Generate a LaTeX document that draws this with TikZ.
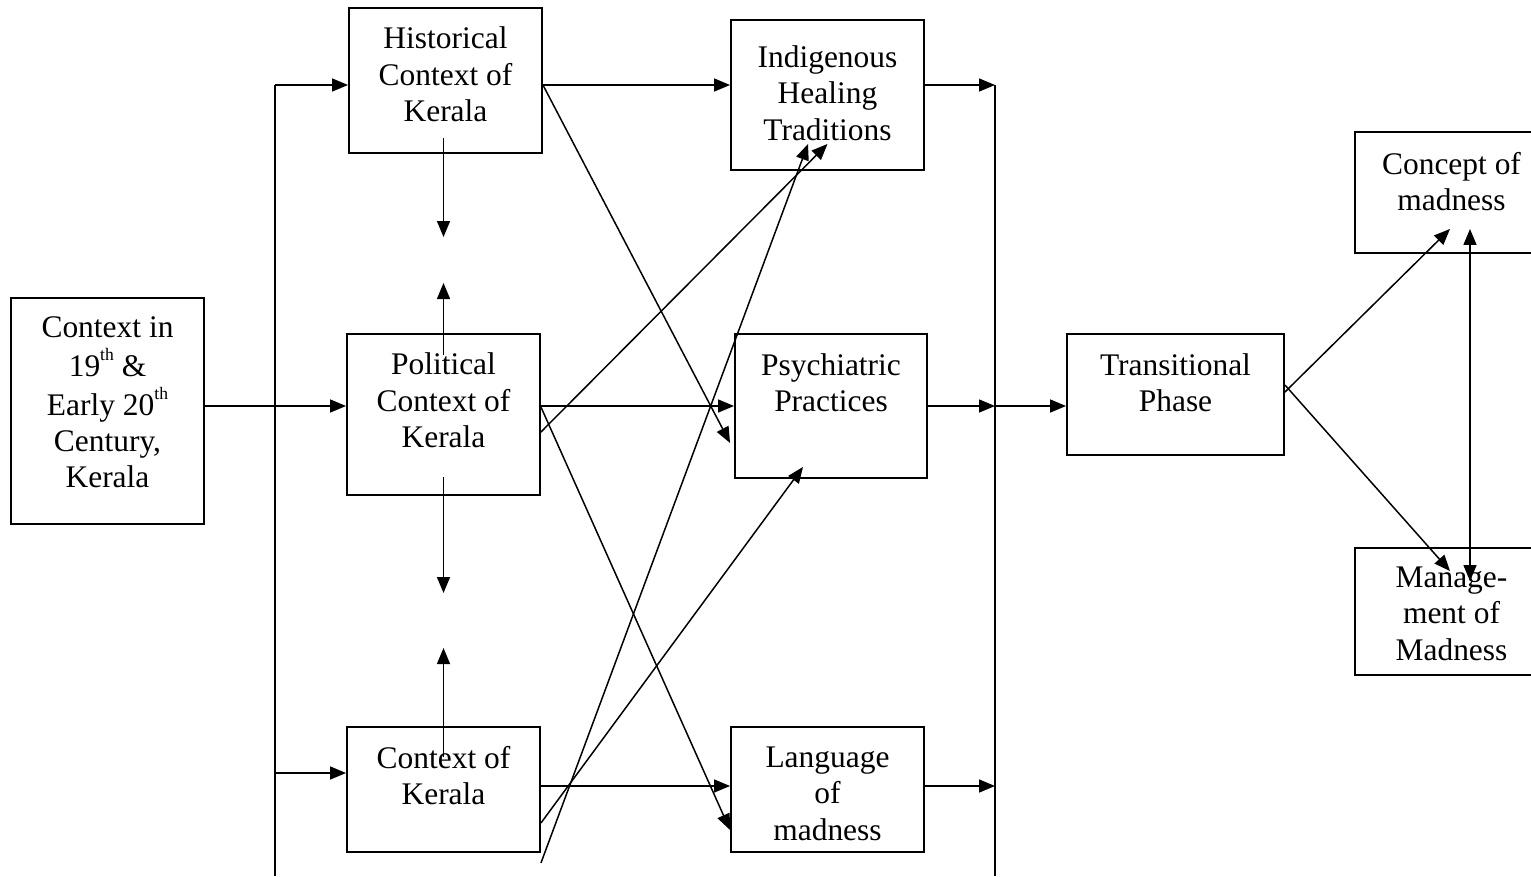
\documentclass[tikz,border=0pt]{standalone}
\usepackage{fontspec}
\setmainfont{Liberation Serif}
\usepackage{tikz}
\usetikzlibrary{positioning,arrows.meta}

% text block lifted inside its box
\newcommand{\lift}[2]{\raisebox{#1}[0pt][0pt]{\begin{tabular}{@{}c@{}}#2\end{tabular}}}
\newcommand{\ordsup}[1]{\raisebox{0.5em}{\fontsize{10}{10}\selectfont #1}}

\begin{document}
\begin{tikzpicture}[
  x=0.02cm, y=-0.02cm,
  box/.style={
    draw,
    rectangle,
    line width=1.1pt,
    inner sep=0pt,
    font=\fontsize{17.9}{20.7}\selectfont
  },
  arr/.style={-{Triangle[length=0.32cm,width=0.26cm]}, line width=0.85pt},
  bus/.style={line width=0.85pt}
]
\useasboundingbox (0,0) rectangle (1531,876);

\node[box, minimum width=3.86cm, minimum height=4.52cm] (ctx) at (107.5,411)
  {\lift{-0.04cm}{Context in\\19\ordsup{th} \&\\Early 20\ordsup{th}\\Century,\\Kerala}};

\node[box, minimum width=3.86cm, minimum height=2.9cm] (hist) at (445.5,80.5)
  {\lift{-0.1cm}{Historical\\Context of\\Kerala}};
\node[box, minimum width=3.86cm, minimum height=3.22cm] (pol) at (443.5,414.5)
  {\lift{0.06cm}{Political\\Context of\\Kerala}};
\node[box, minimum width=3.86cm, minimum height=2.5cm] (ker) at (443.5,789.5)
  {\lift{0.06cm}{Context of\\Kerala}};

\node[box, minimum width=3.86cm, minimum height=3cm] (ind) at (827.5,95)
  {\lift{-0.18cm}{Indigenous\\Healing\\Traditions}};
\node[box, minimum width=3.84cm, minimum height=2.88cm] (psy) at (831,406)
  {\lift{0.25cm}{Psychiatric\\Practices}};
\node[box, minimum width=3.86cm, minimum height=2.5cm] (lang) at (827.5,789.5)
  {\lift{-0.29cm}{Language\\of\\madness}};

\node[box, minimum width=4.34cm, minimum height=2.42cm] (trans) at (1175.5,394.5)
  {\lift{0.02cm}{Transitional\\Phase}};

\node[box, minimum width=3.86cm, minimum height=2.42cm] (conc) at (1451.5,192.5)
  {\lift{0cm}{Concept of\\madness}};
\node[box, minimum width=3.86cm, minimum height=2.54cm] (mgmt) at (1451.5,611.5)
  {\lift{-0.25cm}{Manage-\\ment of\\Madness}};

% left bus
\coordinate (lbt) at (275,85);
\coordinate (lbk) at (275,773);
\coordinate (lbb) at (275,876);
\draw[bus] (lbt) -- (lbb);
\draw[arr] (lbt) -- (lbt -| hist.west);
\draw[arr] (lbk) -- (lbk -| ker.west);
\draw[arr] (ctx.east |- 0,406) -- (pol.west |- 0,406);

% between the context boxes
\draw[arr] (pol.center |- 0,138) -- (pol.center |- 0,237);
\draw[arr] (pol.center |- 0,355) -- (pol.center |- 0,283);
\draw[arr] (pol.center |- 0,477) -- (pol.center |- 0,593);
\draw[arr] (ker.center |- 0,757) -- (ker.center |- 0,648);

% context to themes
\draw[arr] (hist.east |- 0,85) -- (ind.west |- 0,85);
\draw[arr] (hist.east |- 0,85) -- ([xshift=-0.08cm,yshift=-0.74cm]psy.west);
\draw[arr] (pol.east |- 0,406) -- (psy.west |- 0,406);
\draw[arr] (pol.east |- 0,407) -- (lang.west |- 0,830);
\draw[arr] (pol.east |- 0,432) -- ([yshift=0.54cm]ind.south);
\draw[arr] (ker.east |- 0,786) -- (lang.west |- 0,786);
\draw[arr] (ker.east |- 0,823) -- ([xshift=-0.56cm,yshift=0.24cm]psy.south);
\draw[arr] ([yshift=-0.2cm]ker.south east) -- ([xshift=-0.39cm,yshift=0.54cm]ind.south);

% right bus
\coordinate (rbt) at (995,85);
\coordinate (rbm) at (995,406);
\coordinate (rbl) at (995,786);
\coordinate (rbb) at (995,876);
\draw[bus] (rbt) -- (rbb);
\draw[arr] (ind.east |- rbt) -- (rbt);
\draw[arr] (psy.east |- rbm) -- (rbm);
\draw[arr] (lang.east |- rbl) -- (rbl);
\draw[arr] (rbm) -- (trans.west |- rbm);

% outcomes
\draw[arr] (trans.east |- 0,392) -- ([xshift=-0.03cm,yshift=0.5cm]conc.south);
\draw[arr] (trans.east |- 0,385) -- ([xshift=-0.03cm,yshift=-0.48cm]mgmt.north);
\draw[arr, {Triangle[length=0.32cm,width=0.26cm]}-{Triangle[length=0.32cm,width=0.26cm]}]
  ([xshift=0.37cm,yshift=0.5cm]conc.south) -- ([xshift=0.37cm,yshift=-0.68cm]mgmt.north);

\end{tikzpicture}
\end{document}
